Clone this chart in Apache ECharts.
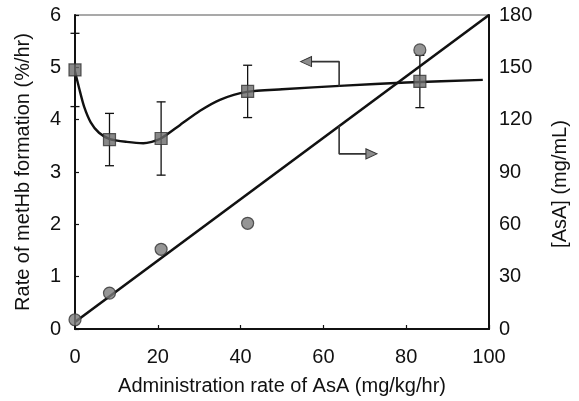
<!DOCTYPE html>
<html>
<head>
<meta charset="utf-8">
<script src="https://cdn.jsdelivr.net/npm/echarts@6/dist/echarts.min.js"></script>
<style>
  html, body { margin: 0; padding: 0; background: #fff; }
  #chart { width: 579px; height: 401px; }
</style>
</head>
<body>
<div id="chart"></div>
<script>
// Administration rate of ascorbic acid (mg/kg/hr)
const doseRate = [0, 8.33, 20.8, 41.7, 83.3];

// Rate of methemoglobin formation (%/hr), mean and SD
const metHbRate = [4.95, 3.62, 3.64, 4.54, 4.73];
const metHbSD = [0.7, 0.5, 0.7, 0.5, 0.5];

// Plasma ascorbic acid concentration (mg/mL)
const asaConc = [5.3, 20.6, 45.7, 60.6, 160];

// Linear fit of [AsA] against administration rate
const asaFitX = [0, 100];
const asaFitY = [4, 180];

// Hand-drawn trend curve through the metHb formation rates
const trendX = [0, 1, 2.2, 3.8, 5.8, 8.4, 12.5, 16.5, 20.5, 25.4, 30.2, 35, 41.5, 50, 65, 80, 98.5];
const trendY = [4.92, 4.6, 4.25, 3.95, 3.75, 3.63, 3.575, 3.55, 3.63, 3.90, 4.17, 4.38, 4.53, 4.58, 4.65, 4.71, 4.76];

// Axis ranges
const xRange = { min: 0, max: 100, step: 20 };
const leftRange = { min: 0, max: 6, step: 1 };
const rightRange = { min: 0, max: 180, step: 30 };

// Arrow call-outs: the curve belongs to the left axis, the straight line to the right axis
const leftArrowX = [63.8, 63.8, 55.8];
const leftArrowY = [4.63, 5.11, 5.11];
const rightArrowX = [63.8, 63.8, 71.6];
const rightArrowY = [116.6, 100.4, 100.4];

const FONT = '"Liberation Sans", Arial, Helvetica, sans-serif';
const INK = '#111';

function arrowData(xs, ys, rotate) {
  return xs.map((x, i) => {
    const last = i === xs.length - 1;
    return {
      value: [x, ys[i]],
      symbol: last ? 'triangle' : 'none',
      symbolSize: [10, 11],
      symbolRotate: rotate
    };
  });
}

const chart = echarts.init(document.getElementById('chart'), null, { renderer: 'canvas' });

chart.setOption({
  animation: false,
  backgroundColor: '#fff',
  grid: {
    left: 75, right: 90, top: 15, bottom: 71,
    show: true, borderColor: '#555', borderWidth: 1.2, backgroundColor: 'transparent'
  },
  xAxis: {
    type: 'value',
    min: xRange.min, max: xRange.max, interval: xRange.step,
    name: 'Administration rate of AsA (mg/kg/hr)',
    nameLocation: 'middle', nameGap: 47,
    nameTextStyle: { fontFamily: FONT, fontSize: 20, color: INK },
    axisLine: { show: true, lineStyle: { color: INK, width: 2 } },
    axisTick: { show: true, inside: true, length: 4, lineStyle: { color: INK, width: 1.2 } },
    axisLabel: { margin: 18, fontFamily: FONT, fontSize: 20, color: INK },
    splitLine: { show: false }
  },
  yAxis: [
    {
      type: 'value', position: 'left',
      min: leftRange.min, max: leftRange.max, interval: leftRange.step,
      name: 'Rate of metHb formation (%/hr)',
      nameLocation: 'middle', nameGap: 42, nameRotate: 90,
      nameTextStyle: { fontFamily: FONT, fontSize: 20, color: INK },
      axisLine: { show: true, lineStyle: { color: INK, width: 2 } },
      axisTick: { show: true, inside: true, length: 4, lineStyle: { color: INK, width: 1.2 } },
      axisLabel: { margin: 14, fontFamily: FONT, fontSize: 20, color: INK },
      splitLine: { show: false }
    },
    {
      type: 'value', position: 'right',
      min: rightRange.min, max: rightRange.max, interval: rightRange.step,
      name: '[AsA] (mg/mL)',
      nameLocation: 'middle', nameGap: 61, nameRotate: 90,
      nameTextStyle: { fontFamily: FONT, fontSize: 20, color: INK, padding: [0, 24, 0, 0] },
      axisLine: { show: true, lineStyle: { color: INK, width: 2 } },
      axisTick: { show: false },
      axisLabel: { margin: 10, fontFamily: FONT, fontSize: 20, color: INK },
      splitLine: { show: false }
    }
  ],
  series: [
    {
      name: 'AsA fit',
      type: 'line',
      yAxisIndex: 1,
      data: asaFitX.map((x, i) => [x, asaFitY[i]]),
      showSymbol: false,
      lineStyle: { color: INK, width: 2.6 },
      z: 2
    },
    {
      name: 'metHb trend',
      type: 'line',
      yAxisIndex: 0,
      data: trendX.map((x, i) => [x, trendY[i]]),
      smooth: 0.25,
      showSymbol: false,
      lineStyle: { color: INK, width: 2.4 },
      z: 2
    },
    {
      name: 'left arrow',
      type: 'line',
      yAxisIndex: 0,
      data: arrowData(leftArrowX, leftArrowY, 90),
      symbol: 'triangle',
      showSymbol: true,
      lineStyle: { color: '#333', width: 1.6 },
      itemStyle: { color: '#8c8c8c', borderColor: '#333', borderWidth: 1 },
      z: 2
    },
    {
      name: 'right arrow',
      type: 'line',
      yAxisIndex: 1,
      data: arrowData(rightArrowX, rightArrowY, -90),
      symbol: 'triangle',
      showSymbol: true,
      lineStyle: { color: '#333', width: 1.6 },
      itemStyle: { color: '#8c8c8c', borderColor: '#333', borderWidth: 1 },
      z: 2
    },
    {
      name: 'metHb SD',
      type: 'custom',
      yAxisIndex: 0,
      data: doseRate.map((x, i) => [x, metHbRate[i] - metHbSD[i], metHbRate[i] + metHbSD[i]]),
      encode: { x: 0, y: [1, 2] },
      clip: false,
      renderItem: function (params, api) {
        const lo = api.coord([api.value(0), api.value(1)]);
        const hi = api.coord([api.value(0), api.value(2)]);
        const w = 4.5;
        const style = { stroke: INK, lineWidth: 1.3 };
        return {
          type: 'group',
          children: [
            { type: 'line', shape: { x1: lo[0], y1: lo[1], x2: hi[0], y2: hi[1] }, style: style },
            { type: 'line', shape: { x1: lo[0] - w, y1: lo[1], x2: lo[0] + w, y2: lo[1] }, style: style },
            { type: 'line', shape: { x1: hi[0] - w, y1: hi[1], x2: hi[0] + w, y2: hi[1] }, style: style }
          ]
        };
      },
      z: 3
    },
    {
      name: 'metHb rate',
      type: 'scatter',
      yAxisIndex: 0,
      data: doseRate.map((x, i) => [x, metHbRate[i]]),
      symbol: 'rect',
      symbolSize: 12,
      clip: false,
      itemStyle: { color: '#6a6a6a', borderColor: '#333', borderWidth: 1.2 },
      z: 4
    },
    {
      name: '[AsA]',
      type: 'scatter',
      yAxisIndex: 1,
      data: doseRate.map((x, i) => [x, asaConc[i]]),
      symbol: 'circle',
      symbolSize: 12,
      clip: false,
      itemStyle: { color: '#7a7a7a', borderColor: '#333', borderWidth: 1.2 },
      z: 4
    }
  ]
});
</script>
</body>
</html>
